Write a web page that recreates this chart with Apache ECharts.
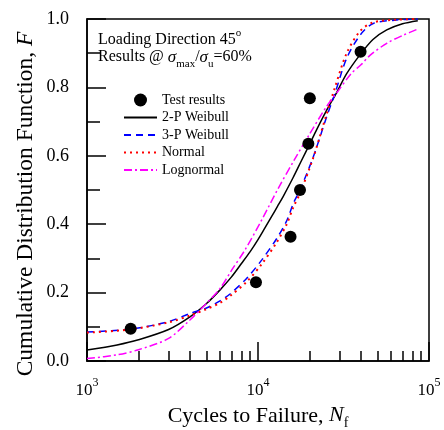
<!DOCTYPE html>
<html>
<head>
<meta charset="utf-8">
<script src="https://cdn.jsdelivr.net/npm/echarts@6/dist/echarts.min.js"></script>
<style>
  html, body { margin: 0; padding: 0; background: #fff; }
  #chart { width: 444px; height: 430px; }
</style>
</head>
<body>
<div id="chart"></div>
<script>
// values
const testN = [1800, 9730, 15500, 17600, 19700, 20100, 39800];
const testF = [0.094, 0.23, 0.363, 0.5, 0.635, 0.768, 0.904];

const weib2N = [1000, 1500, 2000, 3000, 4000, 5000, 6000, 7000, 8000, 9000, 10000, 11000, 12000, 13000, 14000, 16000, 18000, 20000, 22000, 25000, 28840, 33000, 39460, 47000, 56600, 70000, 86000];
const weib2F = [0.032, 0.047, 0.062, 0.092, 0.129, 0.168, 0.208, 0.246, 0.285, 0.32, 0.355, 0.39, 0.422, 0.452, 0.48, 0.535, 0.587, 0.633, 0.676, 0.73, 0.785, 0.84, 0.895, 0.94, 0.968, 0.986, 0.995];

const weib3N = [1000, 1780, 3000, 4000, 5000, 6000, 6860, 8600, 10500, 12900, 14720, 16100, 17600, 21060, 25200, 28200, 33000, 39600, 47200, 64700, 86000];
const weib3F = [0.085, 0.093, 0.115, 0.139, 0.155, 0.176, 0.196, 0.242, 0.295, 0.359, 0.41, 0.461, 0.5, 0.597, 0.714, 0.783, 0.885, 0.953, 0.987, 0.997, 1.0];

const normN = [1000, 1780, 3000, 4000, 5000, 6000, 6860, 8600, 10500, 12900, 14720, 16100, 17600, 21060, 25200, 28200, 33000, 39600, 47200, 64700, 86000];
const normF = [0.083, 0.092, 0.113, 0.133, 0.152, 0.17, 0.19, 0.232, 0.283, 0.348, 0.4, 0.45, 0.49, 0.595, 0.722, 0.8, 0.9, 0.965, 0.99, 0.998, 1.0];

const lognN = [1000, 1500, 2000, 3000, 4000, 5000, 6000, 7000, 8400, 10500, 13140, 16300, 20000, 25000, 29000, 35000, 40000, 45000, 56600, 70800, 86600];
const lognF = [0.007, 0.018, 0.033, 0.066, 0.12, 0.169, 0.212, 0.265, 0.325, 0.412, 0.505, 0.588, 0.663, 0.742, 0.785, 0.84, 0.866, 0.893, 0.929, 0.953, 0.971];

const minorTicksX = [2000, 3000, 4000, 5000, 6000, 7000, 8000, 9000, 20000, 30000, 40000, 50000, 60000, 70000, 80000, 90000];

const FONT = "Liberation Serif";

function pairs(xs, ys) {
  return xs.map((x, i) => [x, ys[i]]);
}

// line entries in the legend show only the line, no marker
function lineItem(name) {
  return { name: name, itemStyle: { opacity: 0 } };
}

let chart = echarts.init(document.getElementById("chart"), null, { renderer: "canvas" });

let option = {
  animation: false,
  backgroundColor: "#fff",
  textStyle: { fontFamily: FONT, color: "#000" },
  grid: {
    left: 87, right: 15, top: 19, bottom: 69,
    outerBoundsMode: "none",
    containLabel: false,
    show: true, borderColor: "#000", borderWidth: 1.5, backgroundColor: "transparent"
  },
  legend: {
    orient: "vertical",
    left: 123,
    top: 93,
    padding: 0,
    itemWidth: 33,
    itemHeight: 13,
    itemGap: 3.5,
    textStyle: { fontFamily: FONT, fontSize: 14, color: "#000" },
    data: [
      { name: "Test results", itemStyle: { opacity: 1 } },
      lineItem("2-P Weibull"),
      lineItem("3-P Weibull"),
      lineItem("Normal"),
      lineItem("Lognormal")
    ]
  },
  xAxis: [
    {
      type: "log",
      logBase: 10,
      min: 1000,
      max: 100000,
      name: "Cycles to Failure, {i|N}{sub|f}",
      nameLocation: "middle",
      nameGap: 38,
      nameTextStyle: {
        fontFamily: FONT, fontSize: 22, color: "#000",
        rich: {
          i: { fontFamily: FONT, fontSize: 22, fontStyle: "italic", color: "#000", verticalAlign: "top", lineHeight: 24 },
          sub: { fontFamily: FONT, fontSize: 14, color: "#000", verticalAlign: "top", lineHeight: 14, padding: [12, 0, 0, 0] }
        }
      },
      axisLine: { show: true, lineStyle: { color: "#000", width: 1.5 } },
      axisTick: { show: true, inside: true, length: 19, lineStyle: { color: "#000", width: 1.5 } },
      splitLine: { show: false },
      axisLabel: {
        margin: 16,
        formatter: v => "{b|10}{s|" + Math.round(Math.log10(v)) + "}",
        rich: {
          b: { fontFamily: FONT, fontSize: 17, color: "#000", verticalAlign: "top", lineHeight: 20, padding: [5, 0, 0, 0] },
          s: { fontFamily: FONT, fontSize: 12, color: "#000", verticalAlign: "top", lineHeight: 12 }
        }
      }
    },
    {
      type: "log",
      logBase: 10,
      min: 1000,
      max: 100000,
      position: "bottom",
      gridIndex: 0,
      axisLine: { show: false },
      axisLabel: { show: false },
      splitLine: { show: false },
      axisTick: {
        show: true, inside: true, length: 10,
        customValues: minorTicksX,
        lineStyle: { color: "#000", width: 1.5 }
      }
    }
  ],
  yAxis: [
    {
      type: "value",
      min: 0,
      max: 1,
      interval: 0.2,
      axisLine: { show: true, lineStyle: { color: "#000", width: 1.5 } },
      axisTick: { show: true, inside: true, length: 19, lineStyle: { color: "#000", width: 1.5 } },
      minorTick: { show: true, splitNumber: 2, length: 13, lineStyle: { color: "#000", width: 1.5 } },
      splitLine: { show: false },
      axisLabel: {
        margin: 18,
        fontFamily: FONT, fontSize: 18, color: "#000",
        formatter: v => v.toFixed(1)
      }
    }
  ],
  graphic: [
    {
      type: "text",
      x: 26,
      y: 204,
      rotation: Math.PI / 2,
      style: {
        text: "{a|Cumulative Distribution Function, }{i|F}",
        align: "center",
        verticalAlign: "middle",
        rich: {
          a: { fontFamily: FONT, fontSize: 23.5, fill: "#000" },
          i: { fontFamily: FONT, fontSize: 23.5, fontStyle: "italic", fill: "#000" }
        }
      }
    },
    {
      type: "text",
      left: 98,
      top: 28,
      style: {
        text: "{a|Loading Direction 45}{sup|o}",
        rich: {
          a: { fontFamily: FONT, fontSize: 16, fill: "#000", verticalAlign: "top", lineHeight: 18, padding: [4, 0, 0, 0] },
          sup: { fontFamily: FONT, fontSize: 11, fill: "#000", verticalAlign: "top", lineHeight: 12 }
        }
      }
    },
    {
      type: "text",
      left: 98,
      top: 49,
      style: {
        text: "{a|Results @ }{g|σ}{sub|max}{a|/}{g|σ}{sub|u}{a|=60%}",
        rich: {
          a: { fontFamily: FONT, fontSize: 16, fill: "#000", verticalAlign: "top", lineHeight: 18 },
          g: { fontFamily: FONT, fontSize: 17, fontStyle: "italic", fill: "#000", verticalAlign: "top", lineHeight: 18 },
          sub: { fontFamily: FONT, fontSize: 11, fill: "#000", verticalAlign: "top", lineHeight: 12, padding: [10, 0, 0, 0] }
        }
      }
    }
  ],
  series: [
    {
      name: "Test results",
      type: "scatter",
      symbol: "circle",
      symbolSize: 12,
      itemStyle: { color: "#000", opacity: 1 },
      data: pairs(testN, testF),
      z: 5
    },
    {
      name: "2-P Weibull",
      type: "line",
      showSymbol: false,
      symbol: "none",
      smooth: 0.3,
      lineStyle: { color: "#000", width: 1.5, type: "solid" },
      itemStyle: { color: "#000" },
      data: pairs(weib2N, weib2F)
    },
    {
      name: "3-P Weibull",
      type: "line",
      showSymbol: false,
      symbol: "none",
      smooth: 0.3,
      lineStyle: { color: "#0000ff", width: 1.5, type: [7, 5] },
      itemStyle: { color: "#0000ff" },
      data: pairs(weib3N, weib3F)
    },
    {
      name: "Normal",
      type: "line",
      showSymbol: false,
      symbol: "none",
      smooth: 0.3,
      lineStyle: { color: "#ff0000", width: 2, type: [2, 4] },
      itemStyle: { color: "#ff0000" },
      data: pairs(normN, normF)
    },
    {
      name: "Lognormal",
      type: "line",
      showSymbol: false,
      symbol: "none",
      smooth: 0.3,
      lineStyle: { color: "#ff00ff", width: 1.5, type: [8, 3, 2, 3] },
      itemStyle: { color: "#ff00ff" },
      data: pairs(lognN, lognF)
    }
  ]
};

chart.setOption(option);
</script>
</body>
</html>
